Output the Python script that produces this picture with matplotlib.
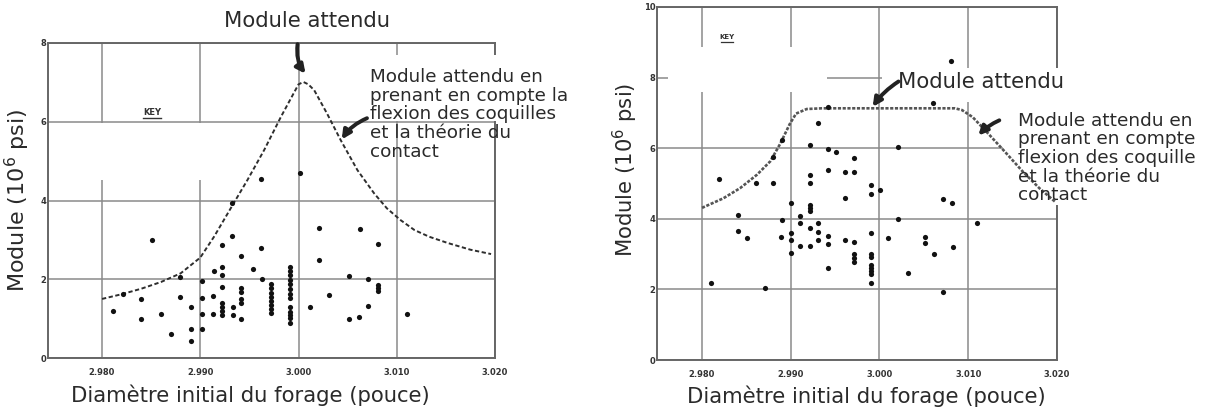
import matplotlib.pyplot as plt
from matplotlib.patches import Rectangle

# ---------------- data ----------------
# left panel : measured points
left_x = [2.99622, 3.00013, 2.99323, 2.98507, 2.99323, 2.99221, 2.99622, 2.99418,
          3.00207, 3.00626, 3.00813, 3.00207, 2.99534, 2.99221, 2.99136, 2.99221,
          2.98796, 2.99630, 2.99017, 2.99221, 2.99418, 2.99418, 2.99418, 2.99418,
          2.99724, 2.99724, 2.99724, 2.99724, 2.99724, 2.99724, 2.99724, 2.99724,
          2.99918, 2.99918, 2.99918, 2.99918, 2.99918, 2.99918, 2.99918, 2.99918,
          2.99918, 2.99918, 2.99918, 2.99918, 2.99918,
          3.00513, 3.00707, 3.00813, 3.00813, 3.00813, 3.00309, 3.00116, 3.00707,
          3.00616, 3.00513, 3.01109, 2.98109, 2.98211, 2.98395, 2.98395, 2.98599,
          2.98796, 2.98908, 2.98701, 2.98908, 2.98908, 2.99017, 2.99017, 2.99017,
          2.99126, 2.99126, 2.99221, 2.99221, 2.99221, 2.99221, 2.99330, 2.99330,
          2.99418]
left_y = [4.54, 4.69, 3.93, 2.99, 3.10, 2.87, 2.80, 2.60,
          3.29, 3.27, 2.89, 2.50, 2.26, 2.32, 2.21, 2.11,
          2.06, 2.00, 1.95, 1.81, 1.78, 1.68, 1.49, 1.40,
          1.87, 1.77, 1.66, 1.56, 1.45, 1.35, 1.24, 1.15,
          2.32, 2.21, 2.11, 1.98, 1.88, 1.75, 1.62, 1.53,
          1.30, 1.18, 1.09, 1.01, 0.90,
          2.09, 2.01, 1.85, 1.78, 1.71, 1.60, 1.30, 1.33,
          1.05, 0.98, 1.13, 1.19, 1.62, 1.50, 0.98, 1.13,
          1.54, 1.30, 0.60, 0.73, 0.43, 0.73, 1.53, 1.12,
          1.58, 1.13, 1.39, 1.30, 1.20, 1.09, 1.30, 1.09,
          0.98]

# left panel : expected modulus curve (dashed)
left_curve_x = [2.980, 2.982, 2.984, 2.986, 2.988, 2.990, 2.9914, 2.9934, 2.9948,
                2.9965, 2.9982, 2.9995, 3.0000, 3.0005, 3.0010, 3.0016, 3.0029,
                3.0043, 3.0060, 3.0077, 3.0090, 3.0104, 3.0118, 3.0133, 3.0152,
                3.0175, 3.0196]
left_curve_y = [1.50, 1.62, 1.76, 1.93, 2.15, 2.55, 3.08, 3.93, 4.52,
                5.28, 6.12, 6.72, 6.95, 7.01, 6.95, 6.80, 6.21,
                5.53, 4.77, 4.18, 3.80, 3.50, 3.25, 3.08, 2.92,
                2.75, 2.64]

# right panel : measured points
right_x = [2.99419, 3.00607, 3.00805, 2.99307, 2.98902, 2.99213, 2.99419, 2.99513,
           2.99708, 3.00206, 2.98801, 2.99419, 2.99607, 2.99708, 2.99213, 2.99213,
           2.98195, 2.98607, 2.98801, 2.99899, 2.99899, 3.00011, 2.99607, 3.00711,
           3.00817, 2.99008, 2.99213, 2.99213, 2.99213, 2.98408, 2.99101, 2.98906,
           2.99101, 2.99307, 3.00213, 3.01098, 2.98401, 2.99213, 2.99307, 2.99307,
           2.99008, 2.98502, 2.98895, 2.99008, 2.99419, 2.99419, 2.99614, 2.99708,
           2.99906, 3.00101, 3.00517, 3.00517, 3.00824, 2.99101, 2.99213, 2.99008,
           2.99708, 2.99708, 2.99708, 2.99906, 2.99906, 3.00618, 2.99419, 2.99906,
           2.99906, 2.99906, 2.99906, 2.99906, 3.00318, 2.98098, 2.98708, 3.00711]
right_y = [7.18, 7.27, 8.48, 6.70, 6.23, 6.09, 5.97, 5.90,
           5.71, 6.02, 5.74, 5.38, 5.32, 5.33, 5.24, 5.02,
           5.13, 5.02, 5.02, 4.96, 4.70, 4.83, 4.60, 4.55,
           4.46, 4.44, 4.39, 4.31, 4.23, 4.11, 4.09, 3.97,
           3.89, 3.87, 3.99, 3.89, 3.65, 3.73, 3.63, 3.40,
           3.61, 3.45, 3.49, 3.40, 3.51, 3.28, 3.40, 3.35,
           3.59, 3.45, 3.48, 3.32, 3.21, 3.23, 3.23, 3.02,
           3.00, 2.88, 2.77, 3.00, 2.93, 3.00, 2.62, 2.69,
           2.60, 2.52, 2.44, 2.19, 2.47, 2.19, 2.03, 1.94]

# right panel : expected modulus curve (dotted)
right_curve_x = [2.980, 2.9824, 2.9843, 2.9862, 2.9877, 2.9888, 2.9899, 2.9906,
                 2.9918, 2.9935, 3.0000, 3.0085, 3.0093, 3.0105, 3.0123, 3.0142,
                 3.0161, 3.0180, 3.0198]
right_curve_y = [4.31, 4.58, 4.87, 5.25, 5.63, 6.12, 6.69, 6.98,
                 7.11, 7.13, 7.13, 7.13, 7.08, 6.88, 6.40, 5.88,
                 5.35, 4.87, 4.48]

x_ticks = [2.980, 2.990, 3.000, 3.010, 3.020]
x_tick_labels = ['2.980', '2.990', '3.000', '3.010', '3.020']
left_y_ticks = [0, 2, 4, 6, 8]
right_y_ticks = [0, 2, 4, 6, 8, 10]

x_label = 'Diamètre initial du forage (pouce)'
y_label = 'Module (10$^6$ psi)'
label_top = 'Module attendu'
label_side_left = 'Module attendu en\nprenant en compte la\nflexion des coquilles\net la théorie du\ncontact'
label_side_right = 'Module attendu en\nprenant en compte\nflexion des coquille\net la théorie du\ncontact'

# ---------------- figure ----------------
fig = plt.figure(figsize=(12.07, 4.08), dpi=100)
txt_col = '#2a2a2a'
grid_col = '#8a8a8a'
spine_col = '#666666'


def setup_axes(ax, xlim, ylim, yticks, ylab_size):
    ax.set_xlim(*xlim)
    ax.set_ylim(*ylim)
    ax.set_xticks(x_ticks)
    ax.set_xticklabels(x_tick_labels)
    ax.set_yticks(yticks)
    ax.tick_params(length=0, pad=1, labelsize=6, colors='#333333')
    for lab in ax.get_xticklabels() + ax.get_yticklabels():
        lab.set_fontweight('bold')
    ax.tick_params(axis='x', pad=7)
    ax.grid(True, color=grid_col, lw=1.1)
    ax.set_axisbelow(True)
    for s in ax.spines.values():
        s.set_color(spine_col)
        s.set_linewidth(1.4)
    ax.set_xlabel(x_label, fontsize=15.2, color=txt_col)
    ax.set_ylabel(y_label, fontsize=ylab_size, color=txt_col)


# ---- left panel ----
ax1 = fig.add_axes([48 / 1207, 1 - 358 / 408, 447 / 1207, 315 / 408])
setup_axes(ax1, (2.9745, 3.020), (0, 8), left_y_ticks, 16)
ax1.xaxis.set_label_coords(0.452, -0.085)
ax1.yaxis.set_label_coords(-0.036, 0.5)

# erased areas of the scan
ax1.add_patch(Rectangle((2.9755, 4.52), 0.0207, 1.45, facecolor='white',
                        edgecolor='none', zorder=1.5))
ax1.add_patch(Rectangle((3.0065, 6.03), 0.0150, 1.67, facecolor='white',
                        edgecolor='none', zorder=2.6, clip_on=False))

ax1.plot(left_curve_x, left_curve_y, color='#2e2e2e', lw=1.4,
         linestyle=(0, (2.2, 1.3)), zorder=3)
ax1.scatter(left_x, left_y, s=14, color='#111111', zorder=4, linewidths=0)

ax1.text(2.9851, 6.24, 'KEY', fontsize=6, fontweight='bold', color='#333333',
         ha='center', va='center')
ax1.plot([2.9842, 2.9860], [6.10, 6.10], color='#333333', lw=1)

ax1.text(3.00089, 8.55, label_top, fontsize=15.2, color=txt_col,
         ha='center', va='center', clip_on=False)
ax1.annotate('', xy=(3.00071, 7.22), xytext=(2.99990, 7.97),
             arrowprops=dict(arrowstyle='-|>', lw=2.8, color='#222222',
                             mutation_scale=13, shrinkA=0, shrinkB=0,
                             connectionstyle='arc3,rad=0.2'),
             annotation_clip=False, zorder=5)
ax1.text(3.00728, 6.19, label_side_left, fontsize=13.2, color=txt_col,
         ha='left', va='center', linespacing=1.05, clip_on=False, zorder=6)
ax1.annotate('', xy=(3.00440, 5.55), xytext=(3.00697, 6.09),
             arrowprops=dict(arrowstyle='-|>', lw=2.8, color='#222222',
                             mutation_scale=13, shrinkA=0, shrinkB=0,
                             connectionstyle='arc3,rad=0.15'),
             annotation_clip=False, zorder=5)

# ---- right panel ----
ax2 = fig.add_axes([657 / 1207, 1 - 360 / 408, 400 / 1207, 353 / 408])
setup_axes(ax2, (2.97493, 3.020), (0, 10), right_y_ticks, 15.2)
ax2.xaxis.set_label_coords(0.5225, -0.071)
ax2.yaxis.set_label_coords(-0.0425, 0.538)

ax2.add_patch(Rectangle((2.9762, 7.59), 0.0179, 1.27, facecolor='white',
                        edgecolor='none', zorder=1.5))
ax2.add_patch(Rectangle((3.0003, 7.32), 0.0152, 0.94, facecolor='white',
                        edgecolor='none', zorder=1.5))
ax2.add_patch(Rectangle((3.0139, 4.39), 0.0100, 3.88, facecolor='white',
                        edgecolor='none', zorder=2.6, clip_on=False))

ax2.plot(right_curve_x, right_curve_y, color='#555555', lw=1.9,
         linestyle=(0, (1.2, 0.6)), zorder=3)
ax2.scatter(right_x, right_y, s=14, color='#111111', zorder=4, linewidths=0)

ax2.text(2.9828, 9.14, 'KEY', fontsize=5, fontweight='bold', color='#333333',
         ha='center', va='center')
ax2.plot([2.9821, 2.9835], [9.00, 9.00], color='#333333', lw=0.9)

ax2.text(3.00212, 7.87, label_top, fontsize=15.2, color=txt_col,
         ha='left', va='center', zorder=6)
ax2.annotate('', xy=(2.99923, 7.17), xytext=(3.00214, 7.89),
             arrowprops=dict(arrowstyle='-|>', lw=2.8, color='#222222',
                             mutation_scale=13, shrinkA=0, shrinkB=0,
                             connectionstyle='arc3,rad=0.1'),
             annotation_clip=False, zorder=5)
ax2.text(3.01561, 5.72, label_side_right, fontsize=13.3, color=txt_col,
         ha='left', va='center', linespacing=1.05, clip_on=False, zorder=6)
ax2.annotate('', xy=(3.01114, 6.36), xytext=(3.01350, 6.79),
             arrowprops=dict(arrowstyle='-|>', lw=2.8, color='#222222',
                             mutation_scale=13, shrinkA=0, shrinkB=0,
                             connectionstyle='arc3,rad=0.1'),
             annotation_clip=False, zorder=5)

plt.savefig('out.png', dpi=100)
